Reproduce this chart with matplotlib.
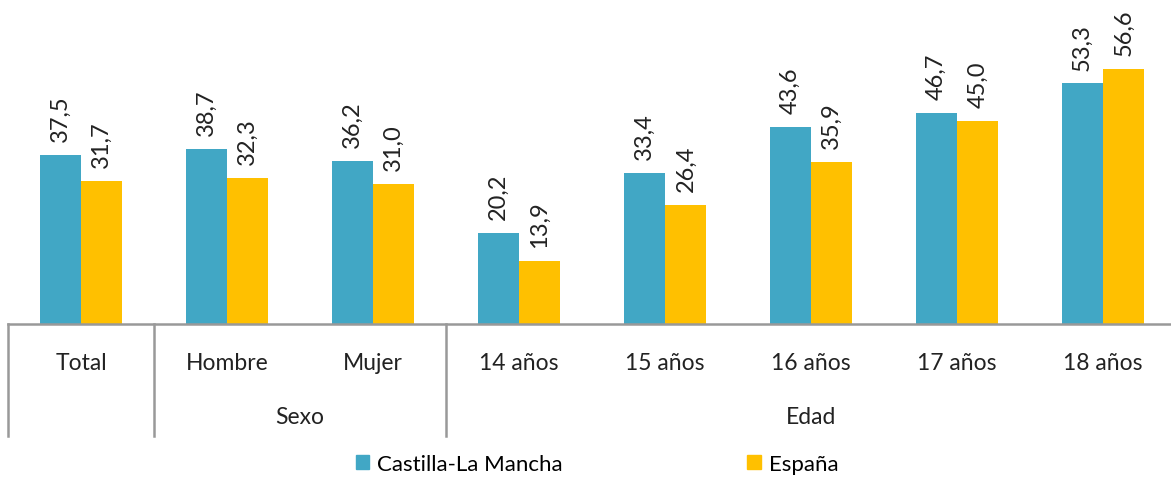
import matplotlib
matplotlib.use("Agg")
import matplotlib.pyplot as plt
import matplotlib.patches as mpatches
import numpy as np

categories = ["Total", "Hombre", "Mujer", "14 años", "15 años", "16 años", "17 años", "18 años"]
clm = [37.5, 38.7, 36.2, 20.2, 33.4, 43.6, 46.7, 53.3]
espana = [31.7, 32.3, 31.0, 13.9, 26.4, 35.9, 45.0, 56.6]
series_names = ["Castilla-La Mancha", "España"]
groups = [("", 0, 1), ("Sexo", 1, 3), ("Edad", 3, 8)]

c_clm = "#41A7C5"
c_esp = "#FFC000"
FONT = "Lato"
plt.rcParams['font.family'] = [FONT, 'DejaVu Sans']

W, H = 1171, 481
fig = plt.figure(figsize=(W / 100, H / 100), dpi=100)
ax = fig.add_axes([8 / W, (H - 325) / H, 1168 / W, 325 / H])

x = np.arange(len(categories))
bw = 0.284
b1 = ax.bar(x - bw / 2, clm, bw, color=c_clm, zorder=2)
b2 = ax.bar(x + bw / 2, espana, bw, color=c_esp, zorder=2)

def fmt(v):
    return f"{v:.1f}".replace(".", ",")

for bars, vals in ((b1, clm), (b2, espana)):
    for r, v in zip(bars, vals):
        ax.annotate(fmt(v), (r.get_x() + r.get_width() / 2, v), xytext=(0, 10),
                    textcoords="offset points", rotation=90, ha="center", va="bottom",
                    fontsize=17, color="#222222")

ax.set_xlim(-0.5, len(categories) - 0.5)
ax.set_ylim(0, 72)
ax.set_yticks([])
ax.set_xticks([])
for s in ("top", "right", "left"):
    ax.spines[s].set_visible(False)
ax.spines["bottom"].set_color("#999999")
ax.spines["bottom"].set_linewidth(1.8)

trans = ax.get_xaxis_transform()
for xi, c in zip(x, categories):
    ax.text(xi, -0.117, c, transform=trans, ha="center", va="center", fontsize=16.5, color="#222222")

bounds = sorted(set([g[1] for g in groups] + [g[2] for g in groups]))
for b in bounds:
    ax.plot([b - 0.5, b - 0.5], [0, -0.345], transform=trans, color="#999999", lw=1.8, clip_on=False)
for name, s, e in groups:
    if name:
        ax.text((s + e - 1) / 2, -0.286, name, transform=trans, ha="center", va="center",
                fontsize=16.5, color="#222222")

handles = [mpatches.Patch(color=c_clm, label=series_names[0]),
           mpatches.Patch(color=c_esp, label=series_names[1])]
fig.legend(handles=handles, loc="center", bbox_to_anchor=(597 / W, 1 - 465 / H), ncol=2,
           frameon=False, fontsize=16, handlelength=0.6, handleheight=0.6,
           handletextpad=0.36, columnspacing=8.3, borderpad=0, borderaxespad=0)

fig.savefig("out.png", dpi=100)
